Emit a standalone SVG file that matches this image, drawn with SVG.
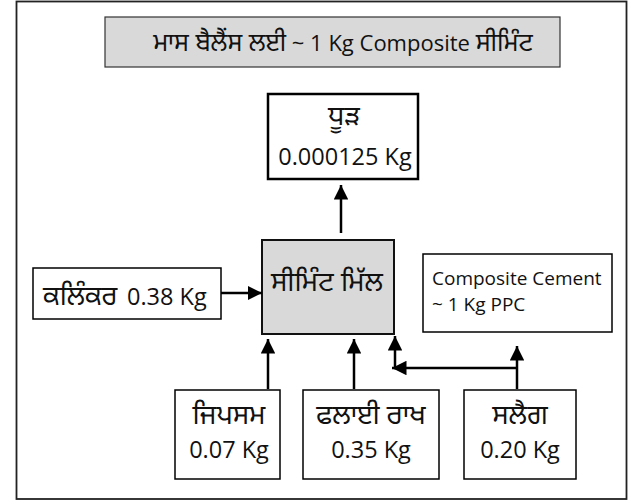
<svg xmlns="http://www.w3.org/2000/svg" width="630" height="501" viewBox="0 0 630 501">
<style>
text{font-family:"Open Sans","Noto Sans Gurmukhi","Noto Sans","DejaVu Sans",sans-serif;fill:#111;}
.t{font-size:23.5px;text-anchor:middle;}
.g{font-size:27.5px;text-anchor:middle;}
.gs{font-size:27px;}
.s{font-size:19px;}
.box{fill:#fff;stroke:#000;stroke-width:1.5;}
.gray{fill:#d9d9d9;stroke:#111;stroke-width:2;}
.c{stroke:#000;stroke-width:2.5;fill:none;}
</style>
<defs>
<marker id="ah" viewBox="0 0 10 10" refX="10" refY="5" markerWidth="5.8" markerHeight="5.8" orient="auto" markerUnits="strokeWidth">
<path d="M0,0 L10,5 L0,10 z" fill="#000"/>
</marker>
</defs>
<rect x="16.5" y="1.5" width="610" height="497.5" fill="#fff" stroke="#222" stroke-width="1.8"/>
<g id="title">
<rect x="105" y="17" width="455" height="50" fill="#d9d9d9" stroke="#333" stroke-width="1.2"/>
<text x="343" y="51" style="font-size:22px;text-anchor:middle"><tspan style="font-size:25px">ਮਾਸ ਬੈਲੈਂਸ ਲਈ</tspan> ~ 1 Kg Composite <tspan style="font-size:25px">ਸੀਮਿੰਟ</tspan></text>
</g>
<g id="dust">
<rect x="268" y="94" width="150" height="85" fill="#fff" stroke="#000" stroke-width="2.5"/>
<text class="g" x="344" y="125">ਧੂੜ</text>
<text class="t" x="345" y="165">0.000125 Kg</text>
</g>
<g id="mill">
<rect class="gray" x="262" y="240" width="132" height="94"/>
<text class="g" x="327" y="291">ਸੀਮਿੰਟ ਮਿੱਲ</text>
</g>
<g id="clinker">
<rect class="box" x="33" y="268" width="188" height="51"/>
<text x="43" y="305"><tspan class="gs">ਕਲਿੰਕਰ</tspan><tspan style="font-size:23.5px" x="127">0.38 Kg</tspan></text>
</g>
<g id="composite">
<rect class="box" x="423" y="254" width="189" height="78"/>
<text class="s" x="432" y="285">Composite Cement</text>
<text class="s" x="432" y="311">~ 1 Kg PPC</text>
</g>
<g id="gypsum">
<rect class="box" x="175" y="390" width="105" height="89"/>
<text class="g" x="229" y="424">ਜਿਪਸਮ</text>
<text class="t" x="229" y="458">0.07 Kg</text>
</g>
<g id="flyash">
<rect class="box" x="303" y="390" width="136" height="89"/>
<text class="g" x="371" y="424">ਫਲਾਈ ਰਾਖ</text>
<text class="t" x="371" y="458">0.35 Kg</text>
</g>
<g id="slag">
<rect class="box" x="464" y="390" width="112" height="89"/>
<text class="g" x="520" y="424">ਸਲੈਗ</text>
<text class="t" x="520" y="458">0.20 Kg</text>
</g>
<g id="connectors">
<line class="c" x1="221" y1="293" x2="262" y2="293" marker-end="url(#ah)"/>
<line class="c" x1="341" y1="233" x2="341" y2="185" marker-end="url(#ah)"/>
<line class="c" x1="268" y1="389" x2="268" y2="339" marker-end="url(#ah)"/>
<line class="c" x1="354" y1="389" x2="354" y2="339" marker-end="url(#ah)"/>
<line class="c" x1="517" y1="389" x2="517" y2="346" marker-end="url(#ah)"/>
<line class="c" x1="517" y1="368" x2="392" y2="368" marker-end="url(#ah)"/>
<line class="c" x1="395" y1="369.2" x2="395" y2="336" marker-end="url(#ah)"/>
</g>
</svg>
